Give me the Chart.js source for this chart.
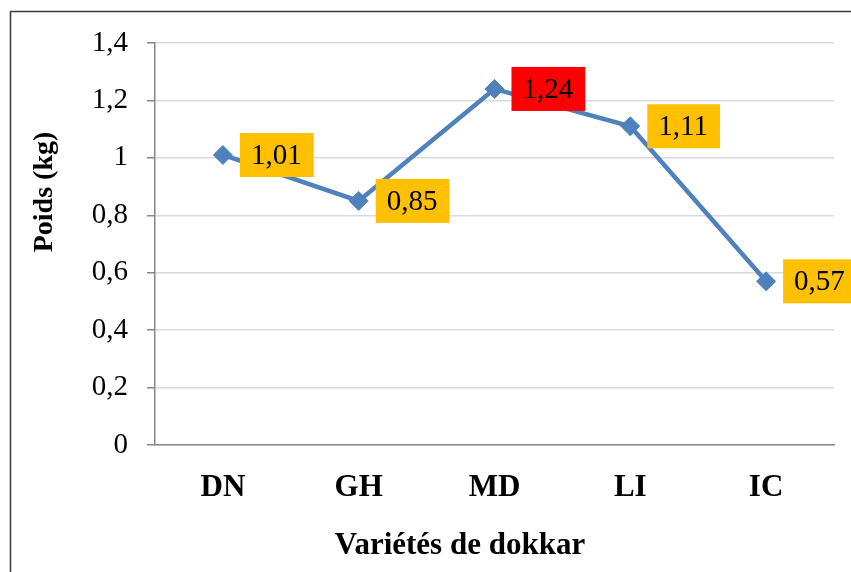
<!DOCTYPE html>
<html>
<head>
<meta charset="utf-8">
<script src="https://cdn.jsdelivr.net/npm/chart.js@4"></script>
<style>
 html, body { margin: 0; padding: 0; background: #fff; }
 #wrap { width: 851px; height: 572px; position: relative; }
</style>
</head>
<body>
<div id="wrap"><canvas id="poidsChart" width="851" height="572"></canvas></div>
<script>
const varietes = ['DN', 'GH', 'MD', 'LI', 'IC'];
const poids = [1.01, 0.85, 1.24, 1.11, 0.57];
const yTicks = [0, 0.2, 0.4, 0.6, 0.8, 1, 1.2, 1.4];
const xTitle = 'Variétés de dokkar';
const yTitle = 'Poids (kg)';

const serif = '"Liberation Serif", "Times New Roman", serif';
const lineCol = '#4F81BD';
const axisCol = '#868686';
const gridCol = '#D9D9D9';

function fr(v) {
 return String(Math.round(v * 100) / 100).replace('.', ',');
}

// outer frame + axis titles (Excel places them off-centre)
const framePlugin = {
 id: 'frame',
 beforeDraw(chart) {
  const ctx = chart.ctx;
  ctx.save();
  ctx.strokeStyle = '#3a3a3a';
  ctx.lineWidth = 1.5;
  ctx.beginPath();
  ctx.moveTo(10.5, 572);
  ctx.lineTo(10.5, 11.5);
  ctx.lineTo(851, 11.5);
  ctx.stroke();
  ctx.restore();
 },
 afterDraw(chart) {
  const ctx = chart.ctx;
  const a = chart.chartArea;
  ctx.save();
  ctx.fillStyle = '#000';
  ctx.textAlign = 'center';
  ctx.textBaseline = 'middle';
  ctx.font = 'bold 31px ' + serif;
  ctx.fillText(xTitle, a.left + 305, 546);
  ctx.translate(45, a.top + 149);
  ctx.rotate(-Math.PI / 2);
  ctx.font = 'bold 28px ' + serif;
  ctx.fillText(yTitle, 0, 0);
  ctx.restore();
 }
};

// boxed value labels to the right of each point
const labelPlugin = {
 id: 'boxLabels',
 afterDatasetsDraw(chart) {
  const ctx = chart.ctx;
  const meta = chart.getDatasetMeta(0);
  const fills = ['#FFC000', '#FFC000', '#FF0000', '#FFC000', '#FFC000'];
  ctx.save();
  ctx.font = '29px ' + serif;
  ctx.textBaseline = 'middle';
  ctx.textAlign = 'left';
  meta.data.forEach((pt, i) => {
   const txt = fr(chart.data.datasets[0].data[i]);
   const w = ctx.measureText(txt).width + 23;
   const h = 44;
   const x = pt.x + 17;
   const y = pt.y - h / 2;
   ctx.fillStyle = fills[i];
   ctx.fillRect(x, y, w, h);
   ctx.fillStyle = '#000';
   ctx.fillText(txt, x + 11, pt.y + 1);
  });
  ctx.restore();
 }
};

new Chart(document.getElementById('poidsChart'), {
 type: 'line',
 data: {
  labels: varietes,
  datasets: [{
   data: poids,
   borderColor: lineCol,
   backgroundColor: lineCol,
   pointBackgroundColor: lineCol,
   pointBorderColor: lineCol,
   pointStyle: 'rectRot',
   pointRadius: 9.5,
   pointBorderWidth: 1,
   borderWidth: 4.5,
   tension: 0,
   fill: false
  }]
 },
 options: {
  responsive: false,
  animation: false,
  layout: { padding: { left: 0, top: 43, right: 17, bottom: 0 } },
  plugins: {
   legend: { display: false },
   tooltip: { enabled: false }
  },
  scales: {
   x: {
    offset: true,
    afterFit(s) { s.height = 127; },
    grid: { display: false, drawTicks: false, offset: true },
    border: { display: true, color: axisCol, width: 1.5 },
    ticks: {
     color: '#000',
     padding: 24,
     font: { family: serif, size: 31, weight: 'bold' }
    }
   },
   y: {
    min: 0,
    max: 1.4,
    afterFit(s) { s.width = 155; },
    afterBuildTicks(s) { s.ticks = yTicks.map(v => ({ value: v })); },
    grid: { color: gridCol, lineWidth: 1.5, tickColor: axisCol, tickLength: 8 },
    border: { display: true, color: axisCol, width: 1.5 },
    ticks: {
     color: '#000',
     padding: 19,
     font: { family: serif, size: 29 },
     callback: v => fr(v)
    }
   }
  }
 },
 plugins: [framePlugin, labelPlugin]
});
</script>
</body>
</html>
